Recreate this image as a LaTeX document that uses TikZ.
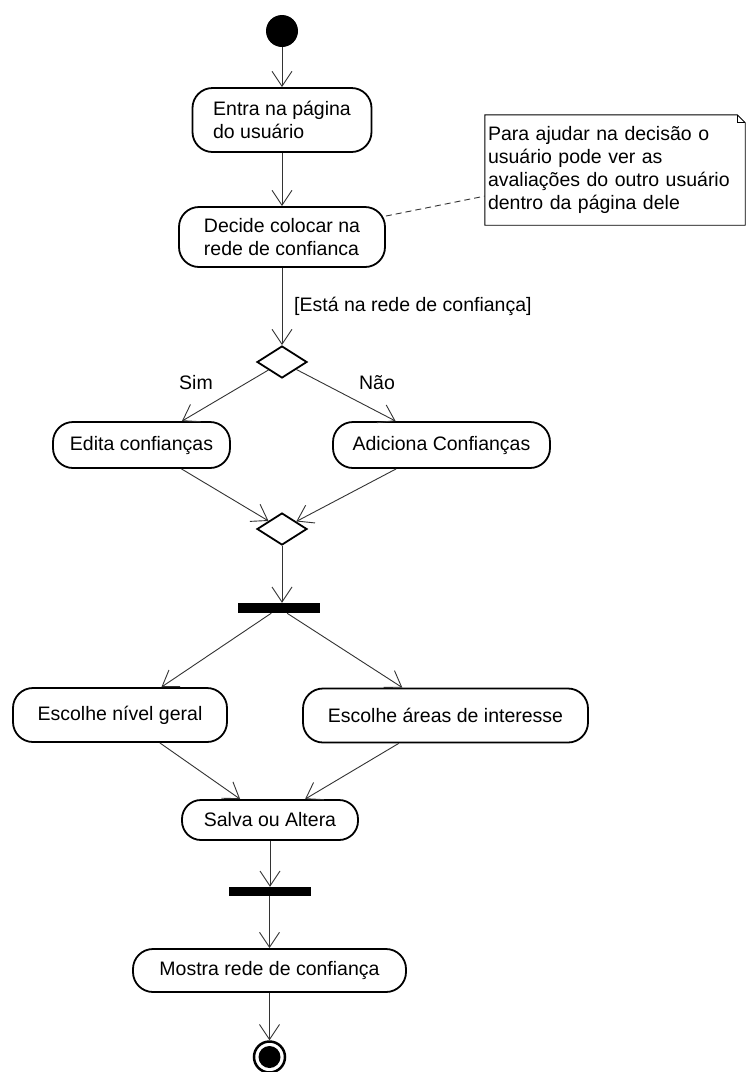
\documentclass[tikz,border=0pt]{standalone}
\usepackage{fontspec}
\setmainfont{Liberation Sans}
\usetikzlibrary{shapes.geometric,arrows.meta}
\newcommand\diagfont{\fontsize{19.5}{23}\selectfont}
\begin{document}
\begin{tikzpicture}[x=1pt,y=-1pt,
  act/.style={draw, line width=1.8pt, rounded corners=20pt, inner sep=0pt, align=left, font=\diagfont},
  flow/.style={draw=black!80, line width=0.9pt, -{Straight Barb[length=15pt,width=20pt]}},
  dec/.style={diamond, draw, line width=1.8pt, minimum width=50pt, minimum height=32pt, inner sep=0pt},
  syncbar/.style={fill=black, minimum width=82pt, minimum height=10pt, inner sep=0pt},
  lbl/.style={font=\diagfont, inner sep=0pt}]
\fill[white] (0,0) rectangle (746,1072);
\useasboundingbox (0,0) rectangle (746,1072);

% nodes
\node[circle, fill=black, minimum size=32pt, inner sep=0pt] (start) at (282,31) {};
\node[act, minimum width=179pt, minimum height=64pt] (act1) at (282,120) {Entra na página\\do usuário};
\node[act, minimum width=206pt, minimum height=60pt] (act2) at (282,237) {Decide colocar na\\rede de confianca};
\node[lbl, anchor=west] (guard) at (294,306) {[Está na rede de confiança]};
\node[dec] (d1) at (282,362) {};
\node[lbl] (sim) at (196,383) {Sim};
\node[lbl] (nao) at (377,383) {Não};
\node[act, minimum width=177pt, minimum height=46pt] (edita) at (141.5,445) {Edita confianças};
\node[act, minimum width=217pt, minimum height=46pt] (adiciona) at (441.5,445) {Adiciona Confianças};
\node[dec] (d2) at (282,529) {};
\node[syncbar] (bar1) at (279,608) {};
\node[act, minimum width=214pt, minimum height=54pt] (nivel) at (120,715) {Escolhe nível geral};
\node[act, minimum width=285pt, minimum height=54pt] (areas) at (445.5,715.5) {Escolhe áreas de interesse};
\node[act, minimum width=176pt, minimum height=40pt, rounded corners=19pt] (salva) at (270,820) {Salva ou Altera};
\node[syncbar, minimum height=9pt] (bar2) at (269.5,891.5) {};
\node[act, minimum width=273pt, minimum height=43pt] (mostra) at (269.5,970.5) {Mostra rede de confiança};
\node[circle, draw, line width=2.5pt, minimum size=31pt, inner sep=0pt] (end) at (269.5,1057) {};
\fill (end.center) circle (11pt);

% note
\node[font=\diagfont, minimum width=260pt, minimum height=110pt, text width=254pt, inner sep=3pt, align=left] (note) at (615,170)
  {Para ajudar na decisão o\\usuário pode ver as\\avaliações do outro usuário\\dentro da página dele};
\draw[line width=0.9pt] (note.north west) -- ([xshift=-8pt]note.north east) -- ([yshift=-8pt]note.north east)
  -- (note.south east) -- (note.south west) -- cycle;
\draw[line width=0.9pt] ([xshift=-8pt]note.north east) -- ([xshift=-8pt,yshift=-8pt]note.north east) -- ([yshift=-8pt]note.north east);
\draw[black!80, line width=0.9pt, dash pattern=on 6pt off 4pt] (act2) -- (note);

% connectors
\draw[flow] (start) -- (act1);
\draw[flow] (act1) -- (act2);
\draw[flow] (act2) -- (d1);
\draw[flow] (d1) -- (edita);
\draw[flow] (d1) -- (adiciona);
\draw[flow] (edita) -- (d2);
\draw[flow] (adiciona) -- (d2);
\draw[flow] (d2) -- (d2 |- bar1.north);
\draw[flow] (bar1) -- (nivel);
\draw[flow] (bar1) -- (areas);
\draw[flow] (nivel) -- (salva);
\draw[flow] (areas) -- (salva);
\draw[flow] (salva) -- (salva |- bar2.north);
\draw[flow] (bar2) -- (bar2 |- mostra.north);
\draw[flow] (mostra) -- (end);
\end{tikzpicture}
\end{document}
